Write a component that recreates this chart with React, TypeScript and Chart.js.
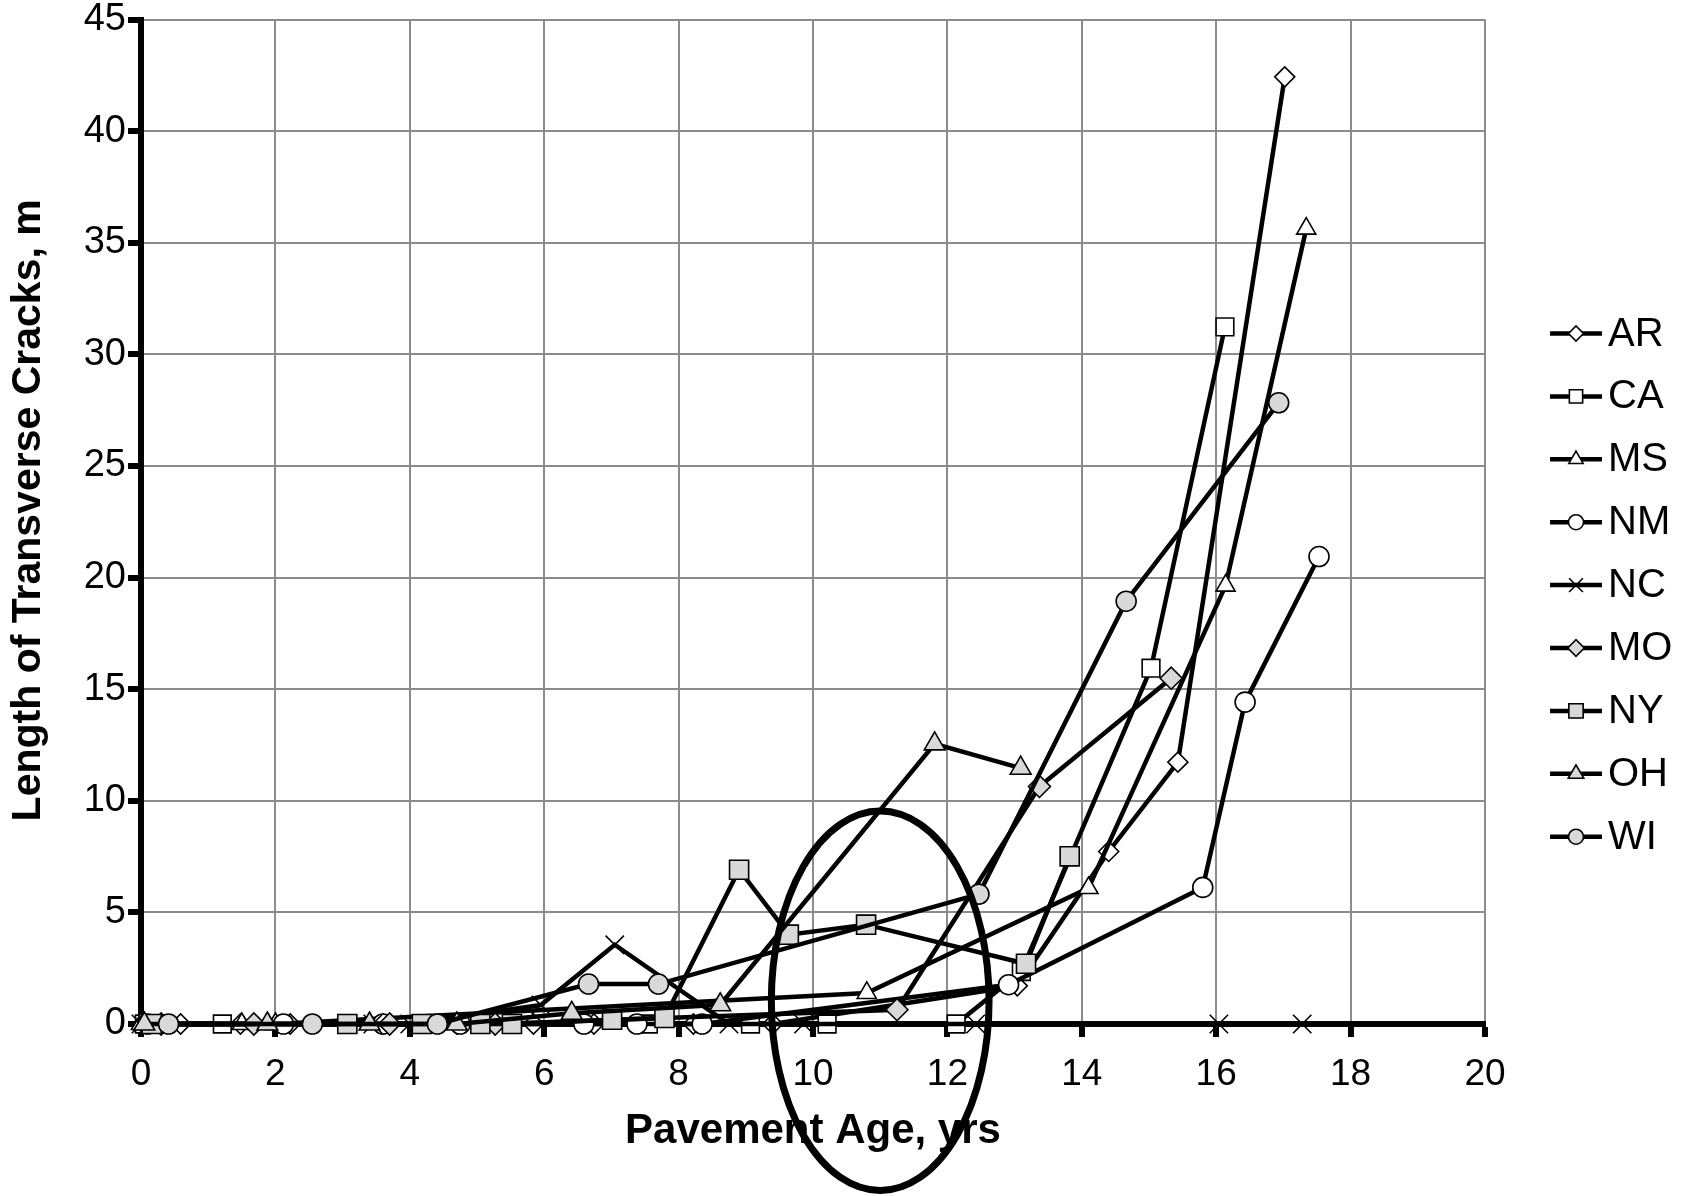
import React, { useEffect, useRef } from 'react';
import { Chart, registerables } from 'chart.js';
import { drawPoint } from 'chart.js/helpers';

Chart.register(...registerables);

// ---- Data (x = pavement age, yrs; y = length of transverse cracks, m) ----
const SERIES_NAMES = ['AR', 'CA', 'MS', 'NM', 'NC', 'MO', 'NY', 'OH', 'WI'];

const AR_X = [0.59, 1.48, 2.22, 3.6, 4.7, 5.84, 6.74, 8.22, 9.4, 13.04, 14.4, 15.43, 17.02];
const AR_Y = [0, 0, 0, 0, 0, 0, 0, 0, 0, 1.71, 7.73, 11.73, 42.43];

const CA_X = [0.05, 1.21, 3.07, 7.55, 9.07, 10.21, 12.13, 13.1, 15.03, 16.13];
const CA_Y = [0, 0, 0, 0, 0, 0, 0, 2.35, 15.94, 31.23];

const MS_X = [0, 1.5, 2.0, 10.8, 14.1, 16.14, 17.34];
const MS_Y = [0, 0, 0, 1.39, 6.09, 19.64, 35.63];

const NM_X = [0.1, 2.12, 3.6, 4.75, 6.59, 7.38, 8.35, 12.91, 15.8, 16.43, 17.53];
const NM_Y = [0, 0, 0, 0, 0, 0, 0, 1.76, 6.12, 14.42, 20.94];

const NC_X = [0, 3.45, 4.0, 5.95, 7.05, 8.75, 9.86, 12.42, 16.04, 17.28];
const NC_Y = [0, 0, 0, 0.85, 3.55, 0, 0, 0, 0, 0];

const MO_X = [0.3, 1.68, 3.7, 5.27, 11.25, 13.37, 15.33];
const MO_Y = [0, 0, 0, 0, 0.64, 10.64, 15.49];

const NY_X = [0.16, 3.07, 4.18, 5.05, 5.52, 7.01, 7.79, 8.9, 9.64, 10.79, 13.17, 13.82];
const NY_Y = [0, 0, 0, 0, 0, 0.19, 0.27, 6.91, 4.0, 4.45, 2.7, 7.51];

const OH_X = [0.05, 1.88, 3.4, 4.7, 6.41, 8.62, 11.81, 13.09];
const OH_Y = [0, 0, 0, 0, 0.48, 0.86, 12.55, 11.46];

const WI_X = [0.41, 2.55, 4.41, 6.66, 7.7, 12.47, 14.66, 16.93];
const WI_Y = [0, 0, 0, 1.79, 1.79, 5.82, 18.94, 27.83];

const SERIES_X = [AR_X, CA_X, MS_X, NM_X, NC_X, MO_X, NY_X, OH_X, WI_X];
const SERIES_Y = [AR_Y, CA_Y, MS_Y, NM_Y, NC_Y, MO_Y, NY_Y, OH_Y, WI_Y];

// Highlight ellipse (in data units)
const ELLIPSE_CX = 11.0;
const ELLIPSE_CY = 1.04;
const ELLIPSE_RX = 1.62;
const ELLIPSE_RY = 8.5;

const X_TITLE = 'Pavement Age, yrs';
const Y_TITLE = 'Length of Transverse Cracks, m';

// ---- Styles ----
const GREY = '#d9d9d9';
const WHITE = '#ffffff';
const MARKERS: { style: string; fill: string; r: number }[] = [
  { style: 'rectRot', fill: WHITE, r: 10 },
  { style: 'rect', fill: WHITE, r: 12.5 },
  { style: 'triangle', fill: WHITE, r: 11 },
  { style: 'circle', fill: WHITE, r: 10 },
  { style: 'crossRot', fill: WHITE, r: 13 },
  { style: 'rectRot', fill: GREY, r: 11 },
  { style: 'rect', fill: GREY, r: 13.5 },
  { style: 'triangle', fill: GREY, r: 12 },
  { style: 'circle', fill: GREY, r: 10 },
];

const FONT = "'Liberation Sans', Arial, Helvetica, sans-serif";

const sideLegend = {
  id: 'sideLegend',
  afterDraw(chart: any) {
    const ctx = chart.ctx;
    const x0 = chart.chartArea.right + 65;
    const top = 333.5;
    const step = 62.9;
    chart.data.datasets.forEach((ds: any, i: number) => {
      const y = top + i * step;
      ctx.save();
      ctx.strokeStyle = '#000';
      ctx.lineWidth = 4.5;
      ctx.beginPath();
      ctx.moveTo(x0, y);
      ctx.lineTo(x0 + 52, y);
      ctx.stroke();
      ctx.fillStyle = ds.pointBackgroundColor;
      ctx.strokeStyle = '#000';
      ctx.lineWidth = 1.6;
      drawPoint(ctx, { pointStyle: ds.pointStyle, radius: ds.pointRadius * 0.75, borderWidth: 1.6, rotation: 0 } as any, x0 + 26, y);
      ctx.fillStyle = '#000';
      ctx.font = `40px ${FONT}`;
      ctx.textAlign = 'left';
      ctx.textBaseline = 'middle';
      ctx.fillText(ds.label, x0 + 58, y + 1);
      ctx.restore();
    });
  },
};

const ellipsePlugin = {
  id: 'ellipseMark',
  afterDraw(chart: any) {
    const xs = chart.scales.x;
    const ys = chart.scales.y;
    const cx = xs.getPixelForValue(ELLIPSE_CX);
    const cy = ys.getPixelForValue(ELLIPSE_CY);
    const rx = xs.getPixelForValue(ELLIPSE_CX + ELLIPSE_RX) - cx;
    const ry = cy - ys.getPixelForValue(ELLIPSE_CY + ELLIPSE_RY);
    const ctx = chart.ctx;
    ctx.save();
    ctx.strokeStyle = '#000';
    ctx.lineWidth = 7;
    ctx.beginPath();
    ctx.ellipse(cx, cy, rx, ry, 0, 0, Math.PI * 2);
    ctx.stroke();
    ctx.restore();
  },
};

export default function App() {
  const canvasRef = useRef<HTMLCanvasElement | null>(null);

  useEffect(() => {
    document.body.style.margin = '0';
    document.body.style.overflow = 'hidden';
    const canvas = canvasRef.current;
    if (!canvas) return;

    const datasets = SERIES_NAMES.map((name, i) => ({
      label: name,
      data: SERIES_X[i].map((x, k) => ({ x, y: SERIES_Y[i][k] })),
      borderColor: '#000',
      borderWidth: 4.5,
      pointStyle: MARKERS[i].style,
      pointRadius: MARKERS[i].r,
      pointBackgroundColor: MARKERS[i].fill,
      pointBorderColor: '#000',
      pointBorderWidth: 1.6,
      pointHoverRadius: MARKERS[i].r,
      tension: 0,
      fill: false,
      clip: false as any,
      order: SERIES_NAMES.length - i,
    }));

    const chart = new Chart(canvas, {
      type: 'line',
      data: { datasets } as any,
      options: {
        responsive: false,
        animation: false,
        events: [],
        layout: { padding: { top: 19.5, right: 196, left: 0, bottom: 0 } },
        plugins: {
          legend: { display: false },
          tooltip: { enabled: false },
        },
        scales: {
          x: {
            type: 'linear',
            min: 0,
            max: 20,
            ticks: {
              stepSize: 2,
              color: '#000',
              padding: 16,
              font: { family: FONT, size: 37, lineHeight: 1.2 },
              maxRotation: 0,
            },
            grid: {
              color: '#8c8c8c',
              lineWidth: 2,
              tickColor: '#000',
              tickWidth: 6,
              tickLength: 13,
              drawTicks: true,
            },
            border: { display: true, color: '#000', width: 6 },
            title: {
              display: true,
              text: X_TITLE,
              color: '#000',
              font: { family: FONT, size: 42, weight: 'bold', lineHeight: 1.2 },
              padding: { top: 0, bottom: 39 },
            },
            afterFit: (s: any) => {
              s.height = 172;
              s.paddingLeft = 0;
              s.paddingRight = 0;
            },
          },
          y: {
            type: 'linear',
            min: 0,
            max: 45,
            ticks: {
              stepSize: 5,
              color: '#000',
              padding: 2,
              font: { family: FONT, size: 38, lineHeight: 1 },
            },
            grid: {
              color: '#8c8c8c',
              lineWidth: 2,
              tickColor: '#000',
              tickWidth: 6,
              tickLength: 13,
              drawTicks: true,
            },
            border: { display: true, color: '#000', width: 6 },
            title: {
              display: true,
              text: '  ' + Y_TITLE,
              color: '#000',
              font: { family: FONT, size: 41, weight: 'bold', lineHeight: 1.2 },
              padding: { top: 4, bottom: 0 },
            },
            afterFit: (s: any) => {
              s.width = 141;
              s.paddingTop = 0;
              s.paddingBottom = 0;
            },
          },
        },
      } as any,
      plugins: [sideLegend, ellipsePlugin],
    });

    return () => {
      chart.destroy();
    };
  }, []);

  return (
    <div style={{ width: 1681, height: 1196, position: 'relative', background: '#fff' }}>
      <canvas ref={canvasRef} width={1681} height={1196} style={{ display: 'block' }} />
    </div>
  );
}
